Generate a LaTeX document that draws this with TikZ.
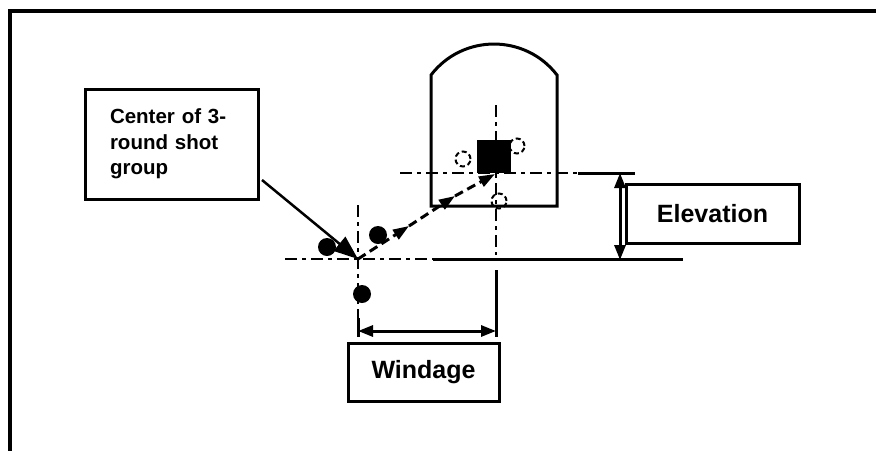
\documentclass[tikz,border=0pt]{standalone}
\usepackage{fontspec}
\setmainfont{Liberation Sans}
\usetikzlibrary{arrows.meta}
\tikzset{
  dimtip/.tip={Triangle[length=15pt,width=11pt]},
  pathtip/.tip={Triangle[length=16pt,width=11pt]},
  bigtip/.tip={Triangle[length=24pt,width=18pt]}
}
\begin{document}
\begin{tikzpicture}[x=1pt,y=-1pt,
  box/.style={draw, line width=3pt, inner sep=0pt, font=\bfseries\fontsize{25}{30}\selectfont},
  dashdot/.style={line width=2.6pt, dash pattern=on 12pt off 5pt on 4pt off 5pt},
  solidline/.style={line width=3pt},
  shot/.style={circle, fill=black, inner sep=0pt, minimum size=18pt},
  ghost/.style={circle, draw, dash pattern=on 5pt off 3pt, line width=2pt, inner sep=0pt, minimum size=15pt}
]
\useasboundingbox (0,0) rectangle (876,451);
% frame
\draw[line width=3.5pt] (876,11) -- (10,11) -- (10,451);

% target silhouette
\draw[solidline] (431,75) -- (431,206) -- (557,206) -- (557,75)
  .. controls (525.2,33.7) and (462.8,33.7) .. (431,75) -- cycle;
\node[fill=black, inner sep=0pt, minimum width=34pt, minimum height=33pt] (sq) at (494,156.5) {};

% reference lines
\draw[dashdot] (400,173) -- (578,173);
\draw[solidline] (578,173) -- (635,173);
\draw[dashdot] (285,259) -- (433,259);
\draw[solidline] (433,259) -- (683,259);
\draw[dashdot] (496,105) -- (496,255);
\draw[solidline] (496,270) -- (496,337);
\draw[dashdot] (358,205) -- (358,318);
\draw[solidline] (358,318) -- (358,337);

% shots
\node[shot] (s1) at (327,247) {};
\node[shot] (s2) at (378,235) {};
\node[shot] (s3) at (362,294) {};
\node[ghost] (g1) at (463,159) {};
\node[ghost] (g2) at (517,146) {};
\node[ghost] (g3) at (499,201) {};

% points
\coordinate (c) at (358,259);
\coordinate (p1) at (409,226);
\coordinate (p2) at (455,196);
\coordinate (t) at (495,174);

% trajectory
\draw[line width=3pt, dash pattern=on 9pt off 5pt, -{pathtip}] (c) -- (p1);
\draw[line width=3pt, dash pattern=on 9pt off 5pt, -{pathtip}] (p1) -- (p2);
\draw[line width=3pt, dash pattern=on 9pt off 5pt, -{pathtip}] (p2) -- (t);

% labels
\node[box, minimum width=173pt, minimum height=110pt, text width=123pt, align=left,
  font=\bfseries\fontsize{20.5}{25.5}\selectfont] (grp) at (171.5,144)
  {Center of 3-\\round shot\\group};
\node[box, minimum width=173pt, minimum height=59pt] (elev) at (712.5,213.5) {Elevation};
\node[box, minimum width=151pt, minimum height=58pt] (wind) at (423.5,372) {Windage};

% pointer from label
\coordinate (gs) at (262,180);
\draw[line width=2.5pt, -{bigtip}] (gs) -- (c);

% dimension arrows
\coordinate (wl) at (358,331);
\coordinate (wr) at (496,331);
\draw[line width=3pt, {dimtip}-{dimtip}] (wl) -- (wr);
\coordinate (et) at (620,173);
\coordinate (eb) at (620,260);
\draw[line width=3pt, {dimtip}-{dimtip}] (et) -- (eb);
\end{tikzpicture}
\end{document}
